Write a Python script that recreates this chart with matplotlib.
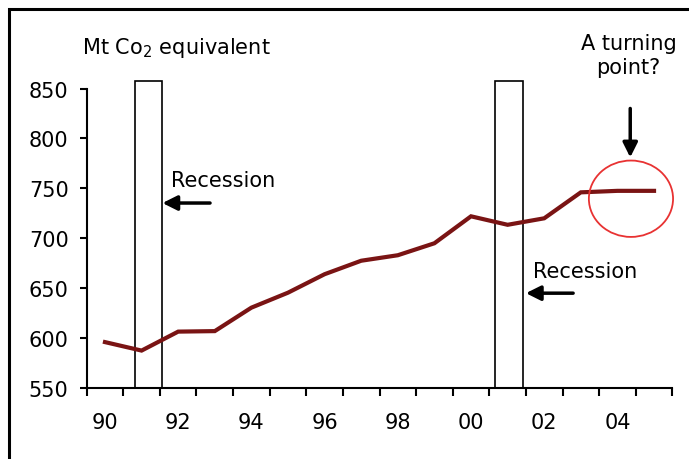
import matplotlib
matplotlib.use("Agg")
import matplotlib.pyplot as plt
from matplotlib.patches import Rectangle, Ellipse

# --- datos ---
years = list(range(1990, 2006))
emissions = [596, 587.5, 606.5, 607, 630.5, 645.5, 664, 677.5, 683, 695,
             722, 713.5, 720, 746, 747.5, 747.5]
tick_labels = ["90", "92", "94", "96", "98", "00", "02", "04"]
recessions = [(0.82, 1.56), (10.66, 11.41)]  # posiciones en índice de categoría

LINE_COLOR = "#7a1414"

fig = plt.figure(figsize=(6.89, 4.60), dpi=100)
ax = fig.add_axes([0.1258, 0.1543, 0.85, 0.6511])

x = list(range(len(years)))
ax.plot(x, emissions, color=LINE_COLOR, lw=3, solid_joinstyle="miter", zorder=3)

# cajas de recesión
for x0, x1 in recessions:
    ax.add_patch(Rectangle((x0, 550), x1 - x0, 308, fill=False, ec="black",
                           lw=1.2, clip_on=False, zorder=2))

ax.set_xlim(-0.5, len(years) - 0.5)
ax.set_ylim(550, 850)
ax.set_yticks([550, 600, 650, 700, 750, 800, 850])

# ticks entre categorías, etiquetas cada dos años
ax.set_xticks([i - 0.5 for i in range(len(years) + 1)])
ax.set_xticklabels([])
ax.set_xticks(list(range(0, len(years), 2)), minor=True)
ax.set_xticklabels(tick_labels, minor=True)
ax.tick_params(axis="x", which="major", direction="out", length=6, width=1.5)
ax.tick_params(axis="x", which="minor", length=0, pad=17, labelsize=15)
ax.tick_params(axis="y", direction="out", length=5, width=1.5, pad=8, labelsize=15)

for s in ["top", "right"]:
    ax.spines[s].set_visible(False)
for s in ["left", "bottom"]:
    ax.spines[s].set_linewidth(1.5)

arrow = dict(arrowstyle="-|>", lw=2.5, color="black", mutation_scale=22,
             shrinkA=0, shrinkB=0)

ax.annotate("", xy=(1.57, 735.3), xytext=(2.87, 735.3), arrowprops=arrow)
ax.text(1.80, 758, "Recession", fontsize=15, ha="left", va="center")
ax.annotate("", xy=(11.5, 645), xytext=(12.79, 645), arrowprops=arrow)
ax.text(11.7, 667.7, "Recession", fontsize=15, ha="left", va="center")

ax.annotate("", xy=(14.35, 781), xytext=(14.35, 830), arrowprops=arrow,
            annotation_clip=False)
ax.text(14.3, 883.6, "A turning\npoint?", fontsize=15, ha="center", va="center",
        linespacing=1.25, clip_on=False)
ax.add_patch(Ellipse((14.37, 739.6), 2.3, 76.5, fill=False, ec="#e83232",
                     lw=1.3, clip_on=False, zorder=4))

fig.text(82 / 689, 1 - 48 / 460, r"Mt Co$_2$ equivalent", fontsize=15,
         ha="left", va="center")

# marco exterior
fig.add_artist(Rectangle((9 / 689, -0.1), 1.2, 1 - 10 / 460 + 0.1,
                         transform=fig.transFigure, fill=False, ec="black",
                         lw=2.2))

fig.savefig("out.png", dpi=100)
